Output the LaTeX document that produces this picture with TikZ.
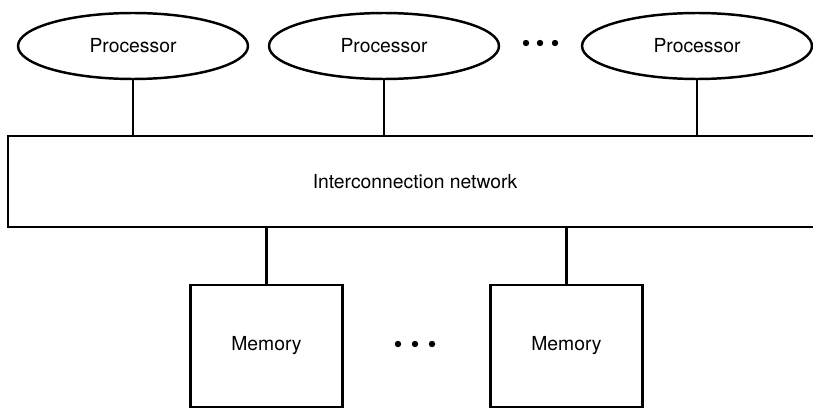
\documentclass[tikz,border=0pt]{standalone}
\usepackage{fontspec}
\setmainfont{TeX Gyre Heros}
\usepackage{tikz}
\usetikzlibrary{shapes.geometric, positioning}
\tikzset{
	proc/.style={draw, ellipse, line width=1.4pt, minimum width=4.6cm, minimum height=1.32cm, inner sep=0pt},
	mem/.style={draw, rectangle, line width=1.4pt, minimum width=3.04cm, minimum height=2.44cm, inner sep=0pt},
	netbox/.style={draw, rectangle, line width=1.4pt, minimum width=16.28cm, minimum height=1.82cm, inner sep=0pt},
	link/.style={line width=1.3pt}
}

\begin{document}
\begin{tikzpicture}[x=0.02cm, y=-0.02cm, font=\fontsize{11}{13}\selectfont]
	\clip (0,0) rectangle (813,412);
	\node[proc] (p1) at (133,46) {Processor};
	\node[proc] (p2) at (384,46) {Processor};
	\node[proc] (p3) at (697,46) {Processor};
	\node[netbox] (net) at (415,181.5) {Interconnection network};
	\node[mem] (m1) at (266.5,346) {Memory};
	\node[mem] (m2) at (566.5,346) {Memory};
	% dots between the units
	\foreach \x in {526,540,555} \fill (\x,43) circle (3.2);
	\foreach \x in {398,415,432} \fill (\x,344) circle (3.2);
	\draw[link] (p1.south) -- (p1.south |- net.north);
	\draw[link] (p2.south) -- (p2.south |- net.north);
	\draw[link] (p3.south) -- (p3.south |- net.north);
	\draw[link] (m1.north) -- (m1.north |- net.south);
	\draw[link] (m2.north) -- (m2.north |- net.south);
\end{tikzpicture}
\end{document}
